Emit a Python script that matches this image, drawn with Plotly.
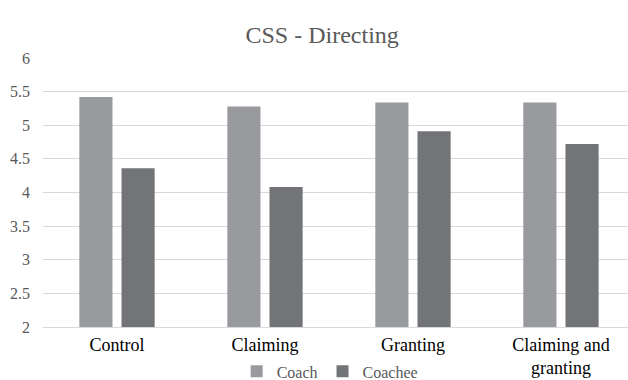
import plotly.graph_objects as go

categories = ["Control", "Claiming", "Granting", "Claiming and<br>granting"]
coach = [5.42, 5.28, 5.34, 5.34]
coachee = [4.36, 4.08, 4.91, 4.72]
y_ticks = [2, 2.5, 3, 3.5, 4, 4.5, 5, 5.5, 6]
y_tick_text = ["2", "2.5", "3", "3.5", "4", "4.5", "5", "5.5", "6"]

SERIF = "Liberation Serif"

fig = go.Figure()
fig.add_trace(go.Bar(name="Coach", x=categories, y=coach,
                     marker=dict(color="#999a9e", line=dict(width=0))))
fig.add_trace(go.Bar(name="Coachee", x=categories, y=coachee,
                     marker=dict(color="#737477", line=dict(width=0))))

fig.update_layout(
    template="none",
    width=628, height=380, autosize=False,
    margin=dict(l=43, r=0, t=58, b=53, autoexpand=False),
    paper_bgcolor="white", plot_bgcolor="white",
    barmode="group", bargap=0.43, bargroupgap=0.214,
    font=dict(family=SERIF, size=16, color="#595959"),
    showlegend=True,
)
fig.update_layout(title=dict(text="CSS - Directing", x=0.513, xref="container", xanchor="center",
                             y=0.91, yref="container", yanchor="middle",
                             font=dict(family=SERIF, size=24, color="#595959")))
fig.update_layout(legend=dict(orientation="h", x=0.49, xanchor="center", y=-0.165, yanchor="middle",
                              bgcolor="rgba(0,0,0,0)",
                              font=dict(family=SERIF, size=16, color="#595959"),
                              itemwidth=30, traceorder="normal"))
fig.update_xaxes(range=[-0.5, 3.453], showgrid=False, showline=True,
                 linecolor="#d9d9d9", linewidth=1, ticks="", zeroline=False,
                 tickfont=dict(family=SERIF, size=18, color="#000000"),
                 ticklabelstandoff=1)
fig.update_yaxes(range=[2, 6], tickvals=y_ticks, ticktext=y_tick_text,
                 showgrid=True, gridcolor="#d9d9d9", gridwidth=1,
                 zeroline=False, showline=False, ticks="",
                 tickfont=dict(family=SERIF, size=16, color="#595959"),
                 ticklabelstandoff=12)

fig.write_html("out.html")
